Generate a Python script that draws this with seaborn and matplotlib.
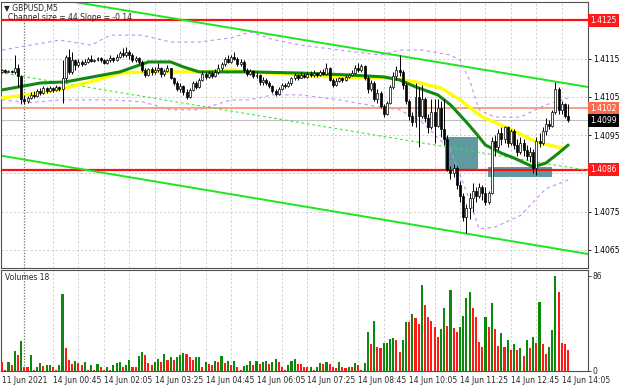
import matplotlib
matplotlib.use("Agg")
import matplotlib.pyplot as plt
from matplotlib.patches import Rectangle
import seaborn as sns
import numpy as np
import pandas as pd

# ---------------- data (prices in pips above 1.4000, M5 bars) ----------------
OPEN = [111.5,112.0,111.6,111.8,111.5,112.5,110.5,104.5,104.0,104.8,105.6,105.2,106.5,106.0,107.2,106.6,107.3,106.8,107.5,107.0,
        110.0,115.5,111.5,114.5,113.2,114.0,113.5,114.2,114.8,114.3,114.6,115.0,114.5,113.8,114.5,115.0,114.6,115.5,116.5,115.8,
        116.8,116.0,114.5,115.0,114.2,112.0,110.8,112.2,111.5,112.0,112.5,111.0,111.8,112.4,110.0,108.6,107.0,107.8,106.2,105.0,
        106.8,108.5,107.5,109.5,111.0,110.2,111.2,110.5,111.5,112.5,113.5,114.8,114.2,115.5,115.0,113.5,114.2,112.0,111.0,111.8,
        110.5,110.8,108.8,109.5,108.5,107.8,106.5,105.8,107.0,108.0,107.8,108.5,109.8,110.6,110.0,110.8,110.2,111.0,110.6,111.2,
        110.8,111.5,111.0,112.5,109.5,108.0,109.2,109.8,109.4,110.2,110.8,111.2,112.5,112.0,113.0,110.0,107.0,108.5,104.5,106.0,
        102.5,100.5,103.5,107.5,110.5,112.0,111.5,108.0,104.0,100.0,98.5,105.0,100.0,104.5,99.5,97.0,101.0,97.5,102.0,96.5,
        94.0,86.0,85.0,86.5,82.0,79.0,73.5,76.0,78.5,80.5,79.0,81.5,80.0,77.5,80.0,93.5,92.0,95.5,94.0,97.0,
        93.0,96.0,92.5,90.5,93.0,91.0,89.5,90.5,86.5,93.5,93.0,96.0,98.0,97.5,101.0,107.0,101.5,103.0,100.0]
HIGH = [112.3,112.2,112.0,112.0,116.0,113.5,110.8,105.5,105.3,106.2,106.5,107.0,107.2,107.8,107.6,107.8,107.5,108.0,107.9,114.5,
        116.0,117.5,116.8,115.0,114.8,114.5,114.8,115.5,116.0,115.0,115.5,115.5,114.8,115.0,115.8,115.5,116.3,117.0,117.8,118.0,
        117.3,116.5,115.6,115.3,114.5,112.5,112.6,112.8,112.8,113.8,112.8,112.3,113.2,112.6,110.3,109.0,108.5,108.0,107.0,107.3,
        109.0,109.0,110.0,111.8,111.6,111.8,111.8,112.2,113.5,114.2,115.5,115.8,116.0,116.6,115.5,114.8,114.5,112.5,112.2,112.0,
        111.5,111.0,110.2,110.0,109.0,108.2,107.0,107.5,108.5,108.5,109.0,110.2,111.2,111.0,111.5,111.2,111.5,111.8,112.0,111.6,
        112.0,112.2,113.8,112.8,110.0,109.8,110.3,110.2,110.8,111.3,112.0,113.2,113.8,113.5,113.4,110.5,109.5,109.0,107.0,106.5,
        103.2,104.0,108.0,111.5,113.0,116.0,112.0,108.5,104.5,101.0,108.5,107.5,108.0,105.0,100.5,104.5,104.5,104.5,104.0,104.5,
        95.0,87.0,87.5,87.0,83.0,80.0,77.0,80.0,82.5,81.5,82.5,82.0,81.5,80.5,94.5,95.0,96.5,97.2,97.5,97.5,
        96.5,96.5,94.0,94.5,94.0,92.5,92.0,91.5,94.5,95.5,97.0,99.5,99.0,101.5,108.9,107.5,103.8,103.5,103.0]
LOW = [111.2,111.3,111.4,111.2,111.0,107.5,103.2,103.2,103.5,104.3,104.8,105.0,105.6,105.8,106.0,106.2,106.2,106.5,106.6,103.5,
       109.5,111.0,111.0,112.0,112.8,113.0,113.2,113.8,114.0,114.0,114.3,114.0,113.5,113.5,114.2,114.0,114.3,115.2,115.5,115.5,
       115.0,114.2,114.0,113.5,111.5,110.2,110.5,110.8,111.0,111.6,110.3,110.5,111.5,109.6,108.0,106.5,106.2,105.5,104.4,104.8,
       106.5,107.0,107.2,109.0,109.6,109.8,110.0,110.2,111.0,112.0,113.0,113.8,113.8,114.5,113.0,113.0,111.5,110.5,110.6,110.0,
       109.8,108.2,108.2,108.0,107.2,106.0,105.2,105.5,106.8,107.2,107.5,108.2,109.4,109.5,109.8,109.8,109.9,110.2,110.2,110.2,
       110.5,110.6,110.8,109.0,107.5,107.8,108.8,108.9,109.0,109.8,110.5,111.0,111.5,111.5,109.5,106.0,106.5,103.8,103.5,102.0,
       99.6,100.2,103.0,107.0,109.5,110.5,107.0,103.0,99.0,97.5,97.0,92.0,99.5,98.5,95.5,96.5,93.0,97.0,94.5,92.5,
       85.5,83.5,84.0,81.0,77.5,72.5,69.4,73.0,75.0,77.5,78.5,78.0,76.8,77.0,79.5,89.5,91.0,92.5,93.0,92.0,
       92.5,91.5,89.5,90.0,89.5,88.5,88.0,85.0,84.5,92.0,92.5,95.0,96.5,97.0,100.5,100.5,100.5,99.5,98.5]
CLOSE = [112.0,111.6,111.8,111.5,112.5,110.5,104.5,104.0,104.8,105.6,105.2,106.5,106.0,107.2,106.6,107.3,106.8,107.5,107.0,110.0,
         115.5,111.5,114.5,113.2,114.0,113.5,114.2,114.8,114.3,114.6,115.0,114.5,113.8,114.5,115.0,114.6,115.5,116.5,115.8,116.8,
         116.0,114.5,115.0,114.2,112.0,110.8,112.2,111.5,112.0,112.5,111.0,111.8,112.4,110.0,108.6,107.0,107.8,106.2,105.0,106.8,
         108.5,107.5,109.5,111.0,110.2,111.2,110.5,111.5,112.5,113.5,114.8,114.2,115.5,115.0,113.5,114.2,112.0,111.0,111.8,110.5,
         110.8,108.8,109.5,108.5,107.8,106.5,105.8,107.0,108.0,107.8,108.5,109.8,110.6,110.0,110.8,110.2,111.0,110.6,111.2,110.8,
         111.5,111.0,112.5,109.5,108.0,109.2,109.8,109.4,110.2,110.8,111.2,112.5,112.0,113.0,110.0,107.0,108.5,104.5,106.0,102.5,
         100.5,103.5,107.5,110.5,112.0,111.5,108.0,104.0,100.0,98.5,105.0,100.0,104.5,99.5,97.0,101.0,97.5,102.0,96.5,94.0,
         86.0,85.0,86.5,82.0,79.0,73.5,76.0,78.5,80.5,79.0,81.5,80.0,77.5,80.0,93.5,92.0,95.5,94.0,97.0,93.0,
         96.0,92.5,90.5,93.0,91.0,89.5,90.5,86.5,93.5,93.0,96.0,98.0,97.5,101.0,107.0,101.5,103.0,100.0,98.9]
VOLUME = [8,1,8,5,18,14,27,3,3,14,1,3,7,4,5,5.5,3,1,5,70,
          21,10,6,9,7,5,8,1,5,1,6,3,1,3,0.5,5,7,7.5,3,5,
          10,3,3,13,17,14,7,5,8,11,8,15,10,12,10,12,14,16,15,12,
          10,12,12.5,3,8,6,5.5,9,8,13,7,9,5,9,3,1,4,5,9,5,
          9,6,8,9,6,8,11,8,3,1,5,9,11,6,6,3,3,3.5,1,3,
          7,6,8,6,3,2,8,3,2,3.5,3,7,5,1,7,35,24,45.5,21.5,21,
          25,25.5,28.5,30,27.5,17,28,44.6,44,51,48,42,78,60,48.5,45.5,39.5,31,37.4,56.6,
          41,73,38.6,35,39.5,50,66,71.5,57,48.5,26,21.5,48.5,39.5,61,38,22.8,34.4,21.5,27.5,
          18.5,24,19,21,13.5,28,21,30.5,25.4,62,24.5,15,21.5,36.5,86,71,25,24,19]

X_LABEL_BARS = [0, 16, 32, 48, 64, 80, 96, 112, 128, 144, 160, 176]
X_LABELS = ['11 Jun 2021', '14 Jun 00:45', '14 Jun 02:05', '14 Jun 03:25', '14 Jun 04:45', '14 Jun 06:05',
            '14 Jun 07:25', '14 Jun 08:45', '14 Jun 10:05', '14 Jun 11:25', '14 Jun 12:45', '14 Jun 14:05']
GRID_BARS = [16, 24, 32, 40, 48, 56, 64, 72, 80, 88, 96, 104, 112, 120, 128, 136, 144, 152, 160, 168, 176]
DAY_SEPARATOR_BAR = 7
PRICE_TICKS = [65, 75, 85, 95, 105, 115, 125]
PRICE_LABELS = [65, 75, 95, 105, 115]

# moving averages, read at sample bars
MA_SLOW_BARS = [0, 12, 20, 37, 46, 53, 57, 62, 78, 94, 109, 120, 125, 130, 137, 141, 146, 149, 152, 157, 161, 167, 171, 175, 178]
MA_SLOW = [106.8, 108.6, 108.9, 111.5, 114.1, 114.1, 112.8, 111.5, 111.5, 111.2, 110.7, 110.2, 109.4, 107.6, 105.5, 102.9, 98.4,
           95.5, 92.4, 90.3, 89.0, 86.7, 87.7, 90.3, 92.4]
MA_FAST_BARS = [0, 12, 20, 30, 37, 46, 62, 73, 78, 94, 104, 120, 125, 130, 138, 144, 151, 159, 168, 176]
MA_FAST = [104.7, 106.0, 107.3, 109.4, 111.2, 111.5, 111.5, 112.0, 111.5, 110.7, 110.2, 109.9, 109.6, 108.9, 107.3, 104.2, 99.7,
           96.9, 93.2, 91.6]

# envelope bands (dashed violet), sample bars
BAND_BARS = [0, 9, 18, 28, 34, 44, 53, 62, 72, 78, 85, 94, 106, 119, 125, 132, 141, 144, 147, 150, 155, 163, 171, 178]
BAND_UP = [117.2, 118.5, 119.8, 118.5, 121.1, 121.1, 119.3, 119.3, 120.4, 121.9, 120.0, 118.5, 117.2, 115.9, 117.2, 117.2, 115.9,
           114.6, 109.4, 101.6, 99.7, 99.7, 102.9, 104.7]
BAND_LO = [104.2, 103.5, 104.2, 104.2, 104.2, 103.7, 101.6, 101.6, 104.2, 104.2, 105.5, 105.5, 104.2, 102.3, 101.6, 98.4, 91.1,
           84.6, 78.1, 70.5, 71.0, 74.0, 81.0, 83.3]

# trend channel (bar, pips) end points
CHANNEL_BARS = [-0.66, 184.24]
CHANNEL_UP = [132.97, 107.56]
CHANNEL_MID = [111.32, 85.76]
CHANNEL_LO = [89.67, 63.96]

# horizontal levels
LEVEL_RED = [125, 86]
LEVEL_SALMON = 102
LAST_PRICE = 98.9

# rectangles: (bar_start, bar_end, pips_low, pips_high)
RECTS = [(139.3, 149.7, 85.9, 94.5), (152.8, 172.9, 84.1, 86.7)]

# ---------------- drawing ----------------
sns.set_theme(style="white")
plt.rcParams['font.family'] = ['DejaVu Sans']
FS = 5.5

W, H = 620, 388
fig = plt.figure(figsize=(W / 100, H / 100), dpi=100)
fig.patch.set_facecolor('white')


def rect(x0, y0, x1, y1):
    return [x0 / W, 1 - y1 / H, (x1 - x0) / W, (y1 - y0) / H]


ax = fig.add_axes(rect(1, 2, 588, 268))
axv = fig.add_axes(rect(1, 270, 588, 371))

PX0, PXB = 2.1, 3.18
XL = ((1 - PX0) / PXB, (588 - PX0) / PXB)

n = len(CLOSE)
idx = np.arange(n)
o = np.array(OPEN); c = np.array(CLOSE); h = np.array(HIGH); l = np.array(LOW)

# volume (seaborn categorical bars: category k sits at x = k)
vol = np.array(VOLUME)
prev = np.concatenate([[vol[0]], vol[:-1]])
direction = np.where(vol > prev, 'up', 'down')
dfv = pd.DataFrame({'bar': idx, 'vol': vol, 'dir': direction})
sns.barplot(data=dfv, x='bar', y='vol', hue='dir', palette={'up': '#0a8a0a', 'down': '#ff1a1a'},
            dodge=False, width=0.66, legend=False, ax=axv, saturation=1, zorder=3,
            edgecolor='none', linewidth=0)

grid_kw = dict(color='#c8c8c8', lw=0.6, ls=(0, (2.5, 2.5)), zorder=0)
for a in (ax, axv):
    for b in GRID_BARS:
        a.axvline(b, **grid_kw)
    a.axvline(DAY_SEPARATOR_BAR, color='#707070', lw=0.9, ls=(0, (1, 1.3)), zorder=0)
for p in PRICE_TICKS:
    ax.axhline(p, **grid_kw)

# rectangles
for (b0, b1, p0, p1) in RECTS:
    ax.add_patch(Rectangle((b0, p0), b1 - b0, p1 - p0, facecolor='#5f9aa3', edgecolor='none', zorder=1))

# horizontal levels
ax.axhline(LAST_PRICE, color='#c0c0c0', lw=0.8, zorder=1)
ax.axhline(LEVEL_SALMON, color='#f99a78', lw=1.3, zorder=2)
for p in LEVEL_RED:
    ax.axhline(p, color='#ff1010', lw=1.6, zorder=2)

# channel
ax.plot(CHANNEL_BARS, CHANNEL_UP, color='#1ee61e', lw=1.4, zorder=2)
ax.plot(CHANNEL_BARS, CHANNEL_LO, color='#1ee61e', lw=1.4, zorder=2)
ax.plot(CHANNEL_BARS, CHANNEL_MID, color='#3ce63c', lw=0.8, ls=(0, (2.5, 2.5)), zorder=2)

# bands
sns.lineplot(x=BAND_BARS, y=BAND_UP, ax=ax, color='#c58ef0', lw=0.8, ls=(0, (3, 3)), sort=False, estimator=None, zorder=2)
sns.lineplot(x=BAND_BARS, y=BAND_LO, ax=ax, color='#c58ef0', lw=0.8, ls=(0, (3, 3)), sort=False, estimator=None, zorder=2)

# moving averages
sns.lineplot(x=MA_FAST_BARS, y=MA_FAST, ax=ax, color='#ffff00', lw=2.4, sort=False, estimator=None, zorder=3)
sns.lineplot(x=MA_SLOW_BARS, y=MA_SLOW, ax=ax, color='#128a12', lw=2.2, sort=False, estimator=None, zorder=4)

# candles
ax.vlines(idx, l, h, color='black', lw=0.7, zorder=5)
up = c >= o
body_lo = np.minimum(o, c)
body_h = np.maximum(np.abs(c - o), 0.15)
ax.bar(idx, body_h, bottom=body_lo, width=0.62, color=np.where(up, 'white', 'black'),
       edgecolor='black', lw=0.5, zorder=6)

ax.set_xlim(*XL)
ax.set_ylim(65 - 18 / 3.83, 65 + 248 / 3.83)
ax.set_xticks([])
ax.yaxis.tick_right()
ax.set_yticks(PRICE_LABELS)
ax.set_yticklabels([f"{1.4 + p / 1e4:.4f}" for p in PRICE_LABELS])
ax.tick_params(axis='y', labelsize=FS, length=2, width=0.6, pad=1.5, colors='black')

axv.set_xlim(*XL)
axv.set_ylim(-0.3, 86 + 6 / 1.113)
axv.yaxis.tick_right()
axv.set_yticks([0, 86])
axv.set_yticklabels(['0', '86'])
axv.tick_params(axis='y', labelsize=FS, length=2, width=0.6, pad=1.5)
axv.set_xticks(X_LABEL_BARS)
axv.set_xticklabels(X_LABELS, ha='left')
axv.tick_params(axis='x', labelsize=FS, length=2, width=0.6, pad=1.5)
axv.set_xlabel(''); axv.set_ylabel('')
ax.set_xlabel(''); ax.set_ylabel('')

for a in (ax, axv):
    for s in a.spines.values():
        s.set_color('#505050'); s.set_linewidth(0.8)
    a.set_facecolor('white')

# price label boxes on the right axis
def price_box(p, bg):
    ax.text(1.004, p, f"{1.4 + p / 1e4:.4f}", transform=ax.get_yaxis_transform(), fontsize=FS, color='white',
            va='center', ha='left', clip_on=False, zorder=10,
            bbox=dict(boxstyle='square,pad=0.25', facecolor=bg, edgecolor='none'))

price_box(125, '#ff1a1a')
price_box(102, '#ff6a4a')
price_box(LAST_PRICE, '#000000')
price_box(86, '#ff1a1a')

fig.text(4 / W, 1 - 8 / H, '▼ GBPUSD,M5', fontsize=FS, va='center', ha='left')
fig.text(8 / W, 1 - 18 / H, 'Channel size = 44 Slope = -0.14', fontsize=FS, va='center', ha='left')
fig.text(5 / W, 1 - 277 / H, 'Volumes 18', fontsize=FS, va='center', ha='left')

fig.savefig('out.png', dpi=100, facecolor='white')
